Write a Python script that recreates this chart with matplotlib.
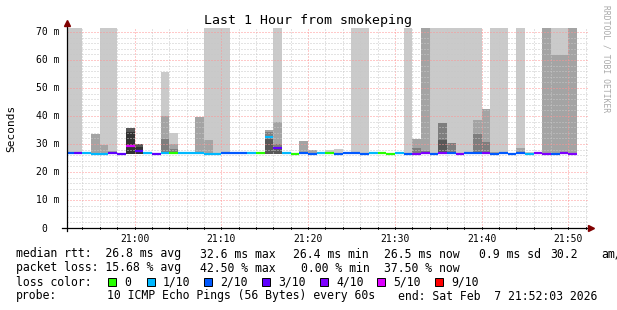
"""Smokeping 'Last 1 Hour' latency graph, rrdtool look."""

import matplotlib

matplotlib.use("Agg")
import matplotlib.pyplot as plt
import numpy as np
from matplotlib.patches import Rectangle

W, H = 617, 310
NA = np.nan
OFF = 80.0  # smoke above the top of the graph, clipped by rrdtool

# one step per minute, start minute relative to 21:00
step_start = list(range(-8, 51))

median_ms = [
    26.7, 26.7, 26.7, 26.4, 26.4, 26.7, 26.4, 29.1, 27.4, 26.7,
    26.4, 26.7, 26.7, 26.7, 26.7, 26.7, 26.4, 26.4, 26.7, 26.7,
    26.7, 26.7, 26.7, 32.4, 28.7, 26.7, 26.4, 26.7, 26.4, 26.7,
    26.7, 26.4, 26.7, 26.7, 26.4, 26.7, 26.7, 26.4, 26.7, 26.4,
    26.4, 26.7, 26.4, 26.7, 26.7, 26.4, 26.7, 26.7, 26.7, 26.4,
    26.7, 26.4, 26.7, 26.4, 26.7, 26.4, 26.4, 26.7, 26.4,
]
loss_bucket = [
    "2/10", "3/10", "1/10", "1/10", "1/10", "3/10", "3/10", "5/10", "3/10", "1/10",
    "3/10", "1/10", "0", "1/10", "1/10", "1/10", "1/10", "1/10", "2/10", "2/10",
    "2/10", "1/10", "0", "1/10", "3/10", "1/10", "0", "2/10", "2/10", "1/10",
    "0", "2/10", "2/10", "2/10", "2/10", "1/10", "0", "0", "1/10", "2/10",
    "4/10", "4/10", "2/10", "4/10", "2/10", "4/10", "2/10", "2/10", "4/10", "2/10",
    "2/10", "2/10", "2/10", "1/10", "4/10", "4/10", "2/10", "4/10", "4/10",
]

# smoke: top of each grey band (outermost ping pair first)
smoke_light = [
    OFF, OFF, NA, NA, OFF, OFF, NA, NA, NA, NA,
    NA, 55.8, 33.9, NA, NA, NA, OFF, OFF, OFF, NA,
    NA, NA, NA, NA, OFF, NA, NA, NA, NA, NA,
    27.9, 28.2, NA, OFF, OFF, NA, NA, NA, NA, OFF,
    NA, NA, OFF, OFF, OFF, OFF, OFF, OFF, NA, OFF,
    OFF, NA, OFF, 27.3, NA, NA, OFF, OFF, NA,
]
smoke_mid = [
    NA, NA, NA, 33.7, 29.6, 27.6, NA, NA, NA, NA,
    NA, 40.0, 29.9, NA, NA, 39.8, 31.4, NA, 27.2, NA,
    NA, NA, NA, 35.0, 37.8, NA, NA, 31.1, 27.9, NA,
    NA, NA, NA, NA, NA, NA, NA, NA, NA, NA,
    31.8, OFF, NA, NA, NA, NA, NA, 38.6, 42.5, 27.2,
    NA, NA, 28.7, NA, NA, OFF, 61.8, 61.8, OFF,
]
smoke_dark = [
    NA, NA, NA, NA, NA, NA, NA, NA, NA, NA,
    NA, 31.8, 28.1, NA, NA, NA, NA, NA, NA, NA,
    NA, NA, NA, 34.4, 30.0, NA, NA, NA, NA, NA,
    NA, NA, NA, NA, NA, NA, NA, NA, NA, NA,
    28.6, 27.5, NA, 37.5, 30.4, NA, NA, 33.7, 30.7, NA,
    NA, NA, NA, NA, NA, NA, NA, NA, NA,
]
smoke_darker = [
    NA, NA, NA, NA, NA, NA, NA, 35.7, 30.1, NA,
    NA, NA, NA, NA, NA, NA, NA, NA, NA, NA,
    NA, NA, NA, 31.8, 28.5, NA, NA, NA, NA, NA,
    NA, NA, NA, NA, NA, NA, NA, NA, NA, NA,
    NA, NA, NA, 31.4, NA, NA, NA, NA, NA, NA,
    NA, NA, NA, NA, NA, NA, NA, NA, NA,
]
smoke_darkest = [
    NA, NA, NA, NA, NA, NA, NA, 34.4, 29.0, NA,
    NA, NA, NA, NA, NA, NA, NA, NA, NA, NA,
    NA, NA, NA, NA, NA, NA, NA, NA, NA, NA,
    NA, NA, NA, NA, NA, NA, NA, NA, NA, NA,
    NA, NA, NA, NA, NA, NA, NA, NA, NA, NA,
    NA, NA, NA, NA, NA, NA, NA, NA, NA,
]
SMOKE_FLOOR = 26.3

loss_labels = ["0", "1/10", "2/10", "3/10", "4/10", "5/10", "9/10"]
loss_colors = ["#26ff00", "#00b8ff", "#0059ff", "#5e00ff", "#7e00ff", "#dd00ff", "#ff0000"]

x_ticks = [0, 10, 20, 30, 40, 50]
x_tick_labels = ["21:00", "21:10", "21:20", "21:30", "21:40", "21:50"]
y_ticks = [0, 10, 20, 30, 40, 50, 60, 70]
y_tick_labels = ["0", "10 m", "20 m", "30 m", "40 m", "50 m", "60 m", "70 m"]

title = "Last 1 Hour from smokeping"
# legend rows, each a list of GPRINT-like items
rtt_items = ["median rtt:  26.8 ms avg", "32.6 ms max", "26.4 ms min", "26.5 ms now",
             "0.9 ms sd", "30.2", "am/s"]
loss_items = ["packet loss: 15.68 % avg", "42.50 % max", "0.00 % min", "37.50 % now"]
probe_items = ["probe:", "10 ICMP Echo Pings (56 Bytes) every 60s",
               "end: Sat Feb  7 21:52:03 2026"]

MONO = "DejaVu Sans Mono"
SHADES = ["#cacaca", "#a4a4a4", "#7e7e7e", "#585858", "#323232"]
MINOR_GRID = "#c8c8c8"
MAJOR_GRID = "#ff9494"
ARROW = "#800000"
LEGEND_SIZE = 8.3

fig = plt.figure(figsize=(W / 100, H / 100), dpi=100)
fig.patch.set_facecolor("white")
# plot area: x 67..588 px, y 28..228 px
ax = fig.add_axes([67 / W, (H - 228) / H, 521 / W, 200 / H])
ax.set_xlim(-7.78, 52.25)
ax.set_ylim(0, 71.4)
ax.set_axis_off()

# smoke, outer (light) pairs first so the inner ones end up on top
for tops, shade in zip([smoke_light, smoke_mid, smoke_dark, smoke_darker, smoke_darkest], SHADES):
    tops = np.array(tops)
    ok = ~np.isnan(tops)
    ax.bar(np.array(step_start)[ok], tops[ok] - SMOKE_FLOOR, width=1.0, bottom=SMOKE_FLOOR,
           align="edge", color=shade, linewidth=0, zorder=1)

# dotted grid on top of the smoke
for m in range(-6, 53, 2):
    ax.axvline(m, color=MAJOR_GRID if m % 10 == 0 else MINOR_GRID,
               linestyle=(0, (1, 2)), linewidth=0.72, zorder=2)
for v in range(2, 71, 2):
    ax.axhline(v, color=MAJOR_GRID if v % 10 == 0 else MINOR_GRID,
               linestyle=(0, (1, 2)), linewidth=0.72, zorder=2)

# median, coloured by loss bucket
color_of = dict(zip(loss_labels, loss_colors))
ax.hlines(median_ms, step_start, np.array(step_start) + 1,
          colors=[color_of[b] for b in loss_bucket], linewidth=1.6, zorder=3, capstyle="butt")

# axes with rrdtool arrows
ax.plot([-8.35, 52.45], [0, 0], color="black", linewidth=0.9, clip_on=False, zorder=4)
ax.plot([-7.78, -7.78], [-1.2, 72.5], color="black", linewidth=0.9, clip_on=False, zorder=4)
ax.plot([52.55], [0], marker=">", markersize=4, color=ARROW, clip_on=False, zorder=5)
ax.plot([-7.78], [73.2], marker="^", markersize=4, color=ARROW, clip_on=False, zorder=5)
for m in range(-6, 53, 2):
    ax.plot([m, m], [-0.5, 0.5], color="black", linewidth=0.6, clip_on=False, zorder=4)


def px(x, y):
    return x / W, 1 - y / H


for m, lab in zip(x_ticks, x_tick_labels):
    xp = 67 + (m + 7.78) / 60.03 * 521
    fig.text(*px(xp, 241.7), lab, ha="center", va="baseline", family=MONO, size=7)
for v, lab in zip(y_ticks, y_tick_labels):
    yp = 228 - v * 200 / 71.4
    fig.text(*px(59.5 if v else 47.5, yp + 3.5), lab, ha="right", va="baseline",
             family=MONO, size=7)

fig.text(*px(308, 24), title, ha="center", va="baseline", family=MONO, size=9.5)
fig.text(*px(11, 128), "Seconds", rotation=90, ha="center", va="center", family=MONO, size=8)
fig.text(*px(606, 59), "RRDTOOL / TOBI OETIKER", rotation=270, ha="center", va="center",
         family=MONO, size=5.8, color="#a8a8a8")

baselines = [257.5, 271.5, 285.5, 299.5]
rows = [
    (rtt_items, [16, 200, 293, 384, 479, 550, 601]),
    (loss_items, [16, 200, 301, 384]),
    (["loss color:"], [16]),
    (probe_items, [16, 107, 398]),
]
for (items, xs), yb in zip(rows, baselines):
    for item, xp in zip(items, xs):
        fig.text(*px(xp, yb), item, ha="left", va="baseline", family=MONO, size=LEGEND_SIZE)

# loss colour boxes
box_x = [108, 146.5, 204, 262, 320, 377, 435]
for bx, lab, col in zip(box_x, loss_labels, loss_colors):
    fig.patches.append(Rectangle(px(bx, baselines[2]), 8 / W, 8 / H, transform=fig.transFigure,
                                 facecolor=col, edgecolor="black", linewidth=0.7))
    fig.text(*px(bx + 16, baselines[2]), lab, ha="left", va="baseline", family=MONO,
             size=LEGEND_SIZE)

fig.savefig("out.png", dpi=100)
